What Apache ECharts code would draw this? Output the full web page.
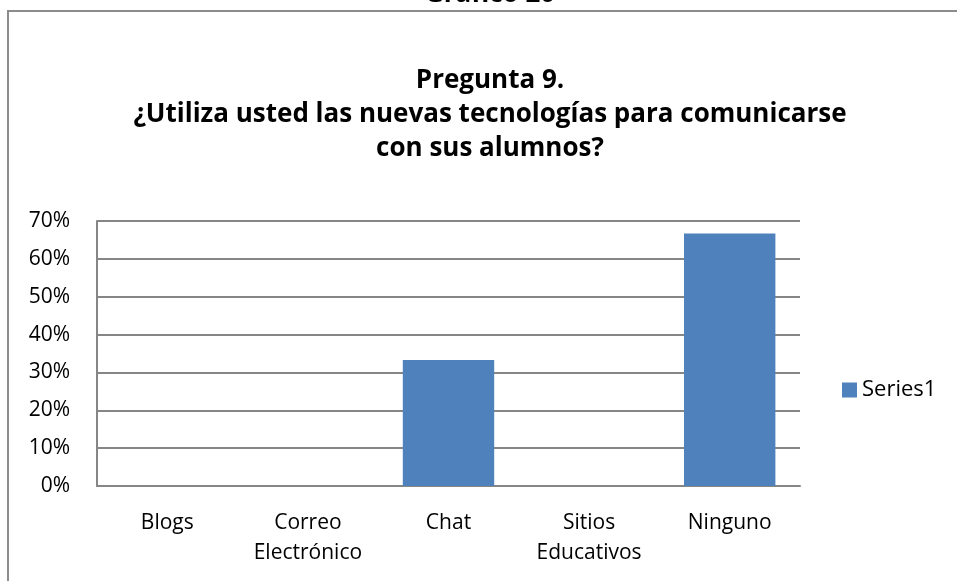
<!DOCTYPE html>
<html>
<head>
<meta charset="utf-8">
<script src="https://cdn.jsdelivr.net/npm/echarts@6/dist/echarts.min.js"></script>
<style>
  html, body { margin: 0; padding: 0; background: #fff; }
  #chart { width: 957px; height: 581px; }
</style>
</head>
<body>
<div id="chart"></div>
<script>
const categories = ['Blogs', 'Correo\nElectrónico', 'Chat', 'Sitios\nEducativos', 'Ninguno'];
const series1 = [0, 0, 0.333, 0, 0.667];
const yTicks = [0, 0.1, 0.2, 0.3, 0.4, 0.5, 0.6, 0.7];

const fontFam = '"Open Sans", "Noto Sans", sans-serif';
const gridColor = '#868686';

const chart = echarts.init(document.getElementById('chart'));

chart.setOption({
  animation: false,
  textStyle: { fontFamily: fontFam },
  title: {
    text: 'Pregunta 9.\n¿Utiliza usted las nuevas tecnologías para comunicarse\ncon sus alumnos?',
    left: 490,
    textAlign: 'center',
    top: 64,
    padding: 0,
    textStyle: { fontSize: 26, fontWeight: 'bold', color: '#000', lineHeight: 34, fontFamily: fontFam }
  },
  graphic: [
    {
      type: 'rect',
      shape: { x: 8, y: 11, width: 1000, height: 620 },
      style: { fill: 'none', stroke: '#8c8c8c', lineWidth: 2 },
      z: -1
    },
    {
      type: 'text',
      x: 490, y: 8,
      style: {
        text: 'Gráfico 20',
        fontSize: 26, fontWeight: 'bold', fontFamily: fontFam,
        fill: '#000', textAlign: 'center', textVerticalAlign: 'bottom'
      }
    }
  ],
  legend: {
    data: ['Series1'],
    left: 842,
    top: 379,
    padding: 0,
    itemWidth: 15,
    itemHeight: 15,
    icon: 'rect',
    textStyle: { fontSize: 22, color: '#000', fontFamily: fontFam }
  },
  grid: { left: 97, right: 157, top: 221, bottom: 95, containLabel: false },
  xAxis: {
    type: 'category',
    data: categories,
    axisLine: { lineStyle: { color: gridColor, width: 2 } },
    axisTick: { show: false },
    axisLabel: { color: '#000', fontSize: 21, lineHeight: 30, margin: 22, interval: 0, fontFamily: fontFam }
  },
  yAxis: {
    type: 'value',
    min: yTicks[0],
    max: yTicks[yTicks.length - 1],
    interval: 0.1,
    axisLine: { show: true, lineStyle: { color: gridColor, width: 2 } },
    axisTick: { show: false },
    splitLine: { lineStyle: { color: gridColor, width: 2 } },
    axisLabel: {
      color: '#000', fontSize: 21, margin: 27, fontFamily: fontFam,
      formatter: v => Math.round(v * 100) + '%'
    }
  },
  series: [
    {
      name: 'Series1',
      type: 'bar',
      data: series1,
      barWidth: '65%',
      itemStyle: { color: '#4f81bd' }
    }
  ]
});
</script>
</body>
</html>
